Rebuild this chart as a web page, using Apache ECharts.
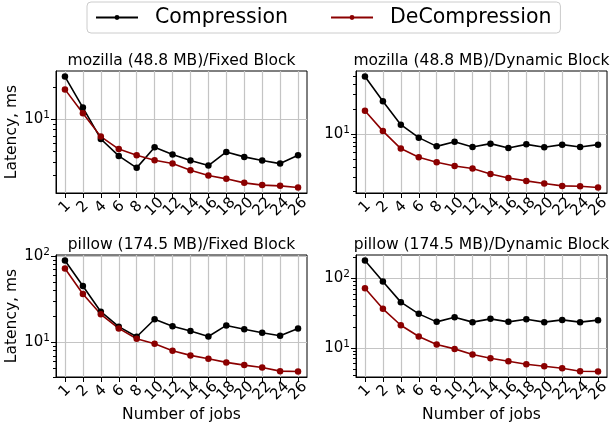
<!DOCTYPE html>
<html>
<head>
<meta charset="utf-8">
<script src="https://cdn.jsdelivr.net/npm/echarts@6/dist/echarts.min.js"></script>
<style>
html, body { margin: 0; padding: 0; background: #fff; }
#chart { width: 614px; height: 429px; }
</style>
</head>
<body>
<div id="chart"></div>
<script>
// number of jobs (x categories)
const jobs = ['1', '2', '4', '6', '8', '10', '12', '14', '16', '18', '20', '22', '24', '26'];

const titles = [
  'mozilla (48.8 MB)/Fixed Block',
  'mozilla (48.8 MB)/Dynamic Block',
  'pillow (174.5 MB)/Fixed Block',
  'pillow (174.5 MB)/Dynamic Block'
];

// latency in ms
const mozFixedComp = [25.2, 12.9, 6.55, 4.54, 3.51, 5.47, 4.68, 4.11, 3.69, 4.95, 4.45, 4.11, 3.85, 4.61];
const mozFixedDecomp = [19.1, 11.4, 6.89, 5.27, 4.61, 4.14, 3.85, 3.34, 2.98, 2.77, 2.54, 2.42, 2.38, 2.30];
const mozDynComp = [49.3, 24.8, 12.9, 9.0, 7.06, 8.05, 6.93, 7.62, 6.74, 7.47, 6.88, 7.41, 6.93, 7.41];
const mozDynDecomp = [19.0, 10.8, 6.64, 5.21, 4.54, 4.09, 3.81, 3.28, 2.93, 2.70, 2.51, 2.35, 2.33, 2.25];
const pilFixedComp = [88.3, 44.9, 22.6, 15.2, 11.6, 18.5, 15.4, 13.5, 11.7, 15.7, 14.2, 12.9, 11.9, 14.5];
const pilFixedDecomp = [71.3, 36.3, 21.1, 14.5, 11.0, 9.64, 8.0, 7.07, 6.45, 5.87, 5.46, 5.13, 4.65, 4.61];
const pilDynComp = [181, 90.6, 45.6, 30.9, 23.7, 27.7, 23.5, 26.2, 23.7, 25.9, 23.5, 25.3, 23.5, 25.1];
const pilDynDecomp = [72.4, 36.5, 21.2, 14.6, 11.2, 9.68, 8.04, 7.11, 6.43, 5.82, 5.45, 5.10, 4.61, 4.58];

const panels = [
  [mozFixedComp, mozFixedDecomp],
  [mozDynComp, mozDynDecomp],
  [pilFixedComp, pilFixedDecomp],
  [pilDynComp, pilDynDecomp]
];

const FONT = 'DejaVu Sans';
const boxes = [
  { left: 56, top: 71, width: 251, height: 122 },
  { left: 356, top: 71, width: 251, height: 122 },
  { left: 56, top: 255, width: 251, height: 122 },
  { left: 356, top: 255, width: 251, height: 122 }
];

// matplotlib style autoscale: 5% margin in log space
function logExtent(vals) {
  const lo = Math.log10(Math.min(...vals));
  const hi = Math.log10(Math.max(...vals));
  const m = (hi - lo) * 0.05;
  return [Math.pow(10, lo - m), Math.pow(10, hi + m)];
}
function majorTicks(ext) {
  const out = [];
  for (let k = Math.floor(Math.log10(ext[0])); k <= Math.ceil(Math.log10(ext[1])); k++) {
    const v = Math.pow(10, k);
    if (v >= ext[0] && v <= ext[1]) out.push(v);
  }
  return out;
}
function minorTicks(ext) {
  const out = [];
  for (let k = Math.floor(Math.log10(ext[0])); k <= Math.ceil(Math.log10(ext[1])); k++) {
    for (let d = 2; d <= 9; d++) {
      const v = d * Math.pow(10, k);
      if (v >= ext[0] && v <= ext[1]) out.push(v);
    }
  }
  return out;
}

const grid = [], xAxis = [], yAxis = [], series = [], title = [];
panels.forEach(function (p, i) {
  const b = boxes[i];
  const ext = logExtent(p[0].concat(p[1]));
  grid.push(Object.assign({ show: true, borderColor: '#000', borderWidth: 1, containLabel: false }, b));
  title.push({
    text: titles[i],
    left: b.left + b.width / 2,
    top: i < 2 ? 52 : 236,
    textAlign: 'center',
    textStyle: { fontFamily: FONT, fontSize: 15.5, fontWeight: 'normal', color: '#000', lineHeight: 18 },
    padding: 0
  });
  xAxis.push({
    type: 'category',
    gridIndex: i,
    data: jobs,
    boundaryGap: true,
    name: i >= 2 ? 'Number of jobs' : '',
    nameLocation: 'middle',
    nameGap: 30,
    nameTextStyle: { fontFamily: FONT, fontSize: 15.5, color: '#000' },
    axisLine: { lineStyle: { color: '#000', width: 1 } },
    axisTick: { show: true, interval: 0, alignWithLabel: true, length: 5, lineStyle: { color: '#000' } },
    axisLabel: {
      interval: 0, rotate: 45, align: 'center', verticalAlign: 'middle', margin: 14,
      fontFamily: FONT, fontSize: 15, color: '#000'
    },
    splitLine: { show: true, interval: 0, alignWithLabel: true, lineStyle: { color: '#c4c4c4', width: 1.2 } }
  });
  yAxis.push({
    type: 'log',
    logBase: 10,
    gridIndex: i,
    position: 'left',
    min: ext[0],
    max: ext[1],
    name: i % 2 === 0 ? 'Latency, ms' : '',
    nameLocation: 'middle',
    nameGap: 34,
    nameTextStyle: { fontFamily: FONT, fontSize: 15.5, color: '#000' },
    axisLine: { show: true, lineStyle: { color: '#000', width: 1 } },
    axisTick: { show: true, length: 5, customValues: majorTicks(ext), lineStyle: { color: '#000' } },
    axisLabel: {
      customValues: majorTicks(ext),
      margin: 6,
      fontFamily: FONT, fontSize: 15, color: '#000',
      formatter: function (v) { return '10{s|' + Math.round(Math.log10(v)) + '}'; },
      rich: { s: { fontFamily: FONT, fontSize: 10.5, color: '#000', padding: [0, 0, 8, 0] } }
    },
    splitLine: { show: true, lineStyle: { color: '#c4c4c4', width: 1.2 } }
  });
  // minor log ticks
  yAxis.push({
    type: 'log',
    logBase: 10,
    gridIndex: i,
    position: 'left',
    min: ext[0],
    max: ext[1],
    axisLine: { show: false },
    axisTick: { show: true, length: 3, customValues: minorTicks(ext), lineStyle: { color: '#000' } },
    axisLabel: { show: false },
    splitLine: { show: false }
  });
  series.push({
    name: 'Compression', type: 'line', xAxisIndex: i, yAxisIndex: 2 * i,
    data: p[0], symbol: 'circle', symbolSize: 6.5, color: '#000',
    lineStyle: { width: 1.6, color: '#000' }, itemStyle: { color: '#000' }
  });
  series.push({
    name: 'DeCompression', type: 'line', xAxisIndex: i, yAxisIndex: 2 * i,
    data: p[1], symbol: 'circle', symbolSize: 6.5, color: '#8b0000',
    lineStyle: { width: 1.6, color: '#8b0000' }, itemStyle: { color: '#8b0000' }
  });
});

const chart = echarts.init(document.getElementById('chart'), null, { renderer: 'canvas' });
chart.setOption({
  animation: false,
  backgroundColor: '#fff',
  title: title,
  legend: {
    data: ['Compression', 'DeCompression'],
    left: 87,
    top: 2,
    padding: [5, 9, 5, 8],
    itemWidth: 42,
    itemHeight: 6,
    itemGap: 42,
    borderColor: '#cccccc',
    borderWidth: 1,
    borderRadius: 4,
    textStyle: { fontFamily: FONT, fontSize: 20.5, color: '#000', padding: [0, 0, 0, 12] }
  },
  grid: grid,
  xAxis: xAxis,
  yAxis: yAxis,
  series: series
});
</script>
</body>
</html>
